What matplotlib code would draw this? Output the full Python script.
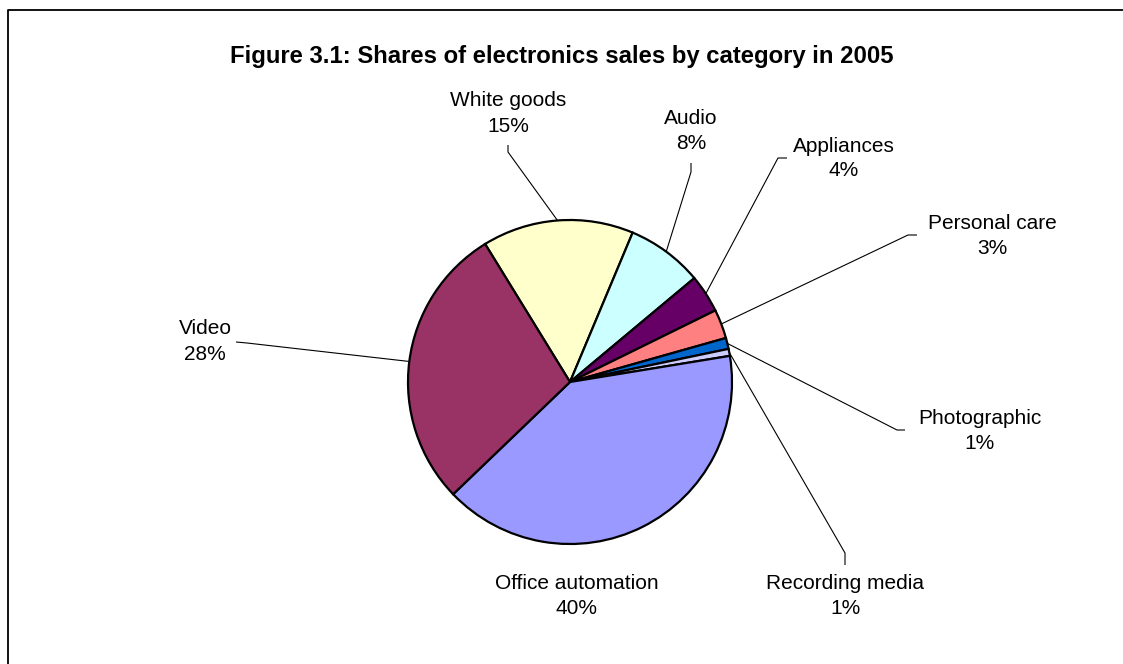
import matplotlib
matplotlib.use("Agg")
from matplotlib import pyplot as plt
import numpy as np

plt.rcParams["font.family"] = ["Liberation Sans", "DejaVu Sans"]

# data (shares in %, clockwise from White goods)
categories = ["White goods", "Audio", "Appliances", "Personal care",
              "Photographic", "Recording media", "Office automation", "Video"]
shares = [15.1, 7.6, 3.8, 2.9, 1.1, 0.7, 40.4, 28.4]
colors = ["#FFFFCC", "#CCFFFF", "#660066", "#FF8080",
          "#0066CC", "#CCCCFF", "#9999FF", "#993366"]
title = "Figure 3.1: Shares of electronics sales by category in 2005"

W, H = 1123, 664
# layout in image pixels (y down): label centre, leader elbow, leader end
layout = {
    "White goods": ((508, 113.5), (508, 152), (508, 145)),
    "Audio": ((691, 131), (691, 172), (691, 163)),
    "Appliances": ((843.5, 158.5), (778, 158), (787, 158)),
    "Personal care": ((992, 236), (908, 235), (917, 235)),
    "Photographic": ((979.5, 431), (897, 430), (905, 430)),
    "Recording media": ((845, 596), (845, 553), (845, 565)),
    "Office automation": ((577, 596), None, None),
    "Video": ((205, 341.5), (247, 343), (236, 342)),
}
cx, cy, r = 570, 382, 162


def flip(p):
    return p[0], H - p[1]


fig = plt.figure(figsize=(W / 100, H / 100), dpi=100)
ax = fig.add_axes([0, 0, 1, 1])

wedges, _ = ax.pie(shares, colors=colors, startangle=121.6, counterclock=False,
                   center=(cx, H - cy), radius=r,
                   wedgeprops=dict(edgecolor="black", linewidth=1.6))

for w, name, val in zip(wedges, categories, shares):
    txt_pos, elbow, end = layout[name]
    ang = np.deg2rad((w.theta1 + w.theta2) / 2)
    if elbow is not None:
        sx = cx + r * np.cos(ang)
        sy = (H - cy) + r * np.sin(ang)
        ex, ey = flip(elbow)
        fx, fy = flip(end)
        ax.plot([sx, ex, fx], [sy, ey, fy], color="black", lw=0.8,
                solid_capstyle="butt")
    tx, ty = flip(txt_pos)
    ax.text(tx, ty, f"{name}\n{round(val):.0f}%", ha="center", va="center",
            fontsize=15, linespacing=1.4)

ax.text(562, H - 57, title, ha="center", va="center", fontsize=17.2,
        fontweight="bold")

# chart frame (only left and top edges visible)
ax.plot([8, 8, W + 5], [-5, H - 10, H - 10], color="black", lw=1.3)

ax.set_xlim(0, W)
ax.set_ylim(0, H)
ax.set_aspect("equal")
ax.axis("off")

fig.savefig("out.png", dpi=100)
